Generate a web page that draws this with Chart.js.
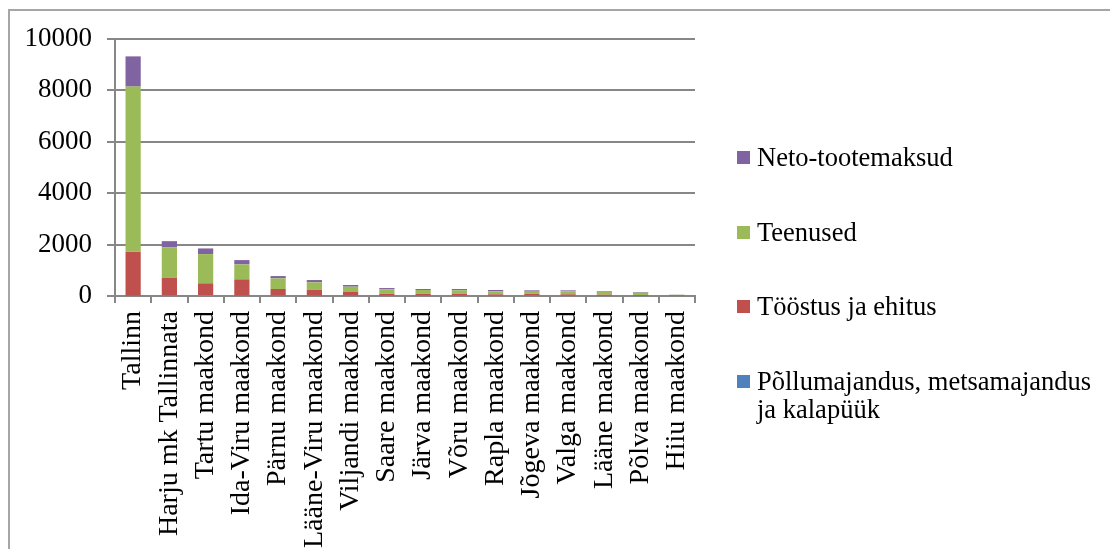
<!DOCTYPE html>
<html>
<head>
<meta charset="utf-8">
<script src="https://cdn.jsdelivr.net/npm/chart.js@4"></script>
<style>
  html, body { margin: 0; padding: 0; background: #fff; }
  #wrap { position: relative; width: 1110px; height: 549px; overflow: hidden; }
  #frame { position: absolute; left: 8px; top: 9px; right: -4px; bottom: -4px;
           border-left: 2px solid #a6a6a6; border-top: 2px solid #a6a6a6; }
  #chart { position: absolute; left: 0; top: 0; }
  .leg { position: absolute; left: 737px; width: 365px; font: 26.5px "Liberation Serif", "Times New Roman", serif;
         line-height: 28px; color: #000; padding-left: 20px; box-sizing: border-box; }
  .leg i { position: absolute; left: 0; top: 8px; width: 13px; height: 13px; }
</style>
</head>
<body>
<div id="wrap">
  <div id="frame"></div>
  <canvas id="chart" width="1110" height="549"></canvas>
  <div id="legend"></div>
</div>
<script>
const regions = ['Tallinn', 'Harju mk Tallinnata', 'Tartu maakond', 'Ida-Viru maakond', 'Pärnu maakond',
  'Lääne-Viru maakond', 'Viljandi maakond', 'Saare maakond', 'Järva maakond', 'Võru maakond',
  'Rapla maakond', 'Jõgeva maakond', 'Valga maakond', 'Lääne maakond', 'Põlva maakond', 'Hiiu maakond'];

const agriculture = [5, 30, 39, 15, 25, 20, 20, 20, 20, 20, 20, 25, 20, 18, 15, 8];
const industry = [1714, 680, 454, 633, 247, 225, 135, 70, 70, 70, 45, 65, 45, 34, 24, 10];
const services = [6429, 1180, 1137, 582, 415, 287, 207, 169, 143, 130, 117, 78, 117, 116, 91, 28];
const netTaxes = [1176, 244, 221, 167, 89, 89, 65, 51, 39, 52, 51, 52, 38, 26, 25, 6];

const yTicks = [0, 2000, 4000, 6000, 8000, 10000];

const SERIF = '"Liberation Serif", "Times New Roman", serif';
const AXIS = '#878787';

const datasets = [
  { label: 'Põllumajandus, metsamajandus ja kalapüük', data: agriculture, backgroundColor: '#4f81bd' },
  { label: 'Tööstus ja ehitus', data: industry, backgroundColor: '#c0504d' },
  { label: 'Teenused', data: services, backgroundColor: '#9bbb59' },
  { label: 'Neto-tootemaksud', data: netTaxes, backgroundColor: '#8064a2' },
];

const chart = new Chart(document.getElementById('chart'), {
  type: 'bar',
  data: {
    labels: regions,
    datasets: datasets.map(d => ({ ...d, barPercentage: 0.42, categoryPercentage: 1, borderWidth: 0 })),
  },
  options: {
    responsive: false,
    animation: false,
    layout: { padding: { left: 0, top: 39, right: 415, bottom: 0 } },
    plugins: { legend: { display: false }, tooltip: { enabled: false } },
    scales: {
      x: {
        stacked: true,
        afterFit: s => { s.height = 253; },
        grid: { offset: true, drawOnChartArea: false, drawTicks: true, tickLength: 7, tickColor: AXIS, lineWidth: 2 },
        border: { color: AXIS, width: 2 },
        ticks: { autoSkip: false, minRotation: 90, maxRotation: 90, padding: 8, color: '#000',
                 font: { family: SERIF, size: 28 } },
      },
      y: {
        stacked: true,
        min: 0,
        max: 10000,
        afterFit: s => { s.width = 115; },
        afterBuildTicks: s => { s.ticks = yTicks.map(v => ({ value: v })); },
        grid: { color: AXIS, lineWidth: 2, tickLength: 8, tickColor: AXIS },
        border: { color: AXIS, width: 2 },
        ticks: { padding: 15, color: '#000', font: { family: SERIF, size: 27 }, callback: v => String(v) },
      },
    },
  },
});

// legend on the right, top entry is the top of the stack
const legendEl = document.getElementById('legend');
const legendTops = [143, 218, 292, 367];
datasets.slice().reverse().forEach(function(d, i) {
  const item = document.createElement('div');
  item.className = 'leg';
  item.style.top = legendTops[i] + 'px';
  const box = document.createElement('i');
  box.style.background = d.backgroundColor;
  item.appendChild(box);
  item.appendChild(document.createTextNode(d.label));
  legendEl.appendChild(item);
});
</script>
</body>
</html>
